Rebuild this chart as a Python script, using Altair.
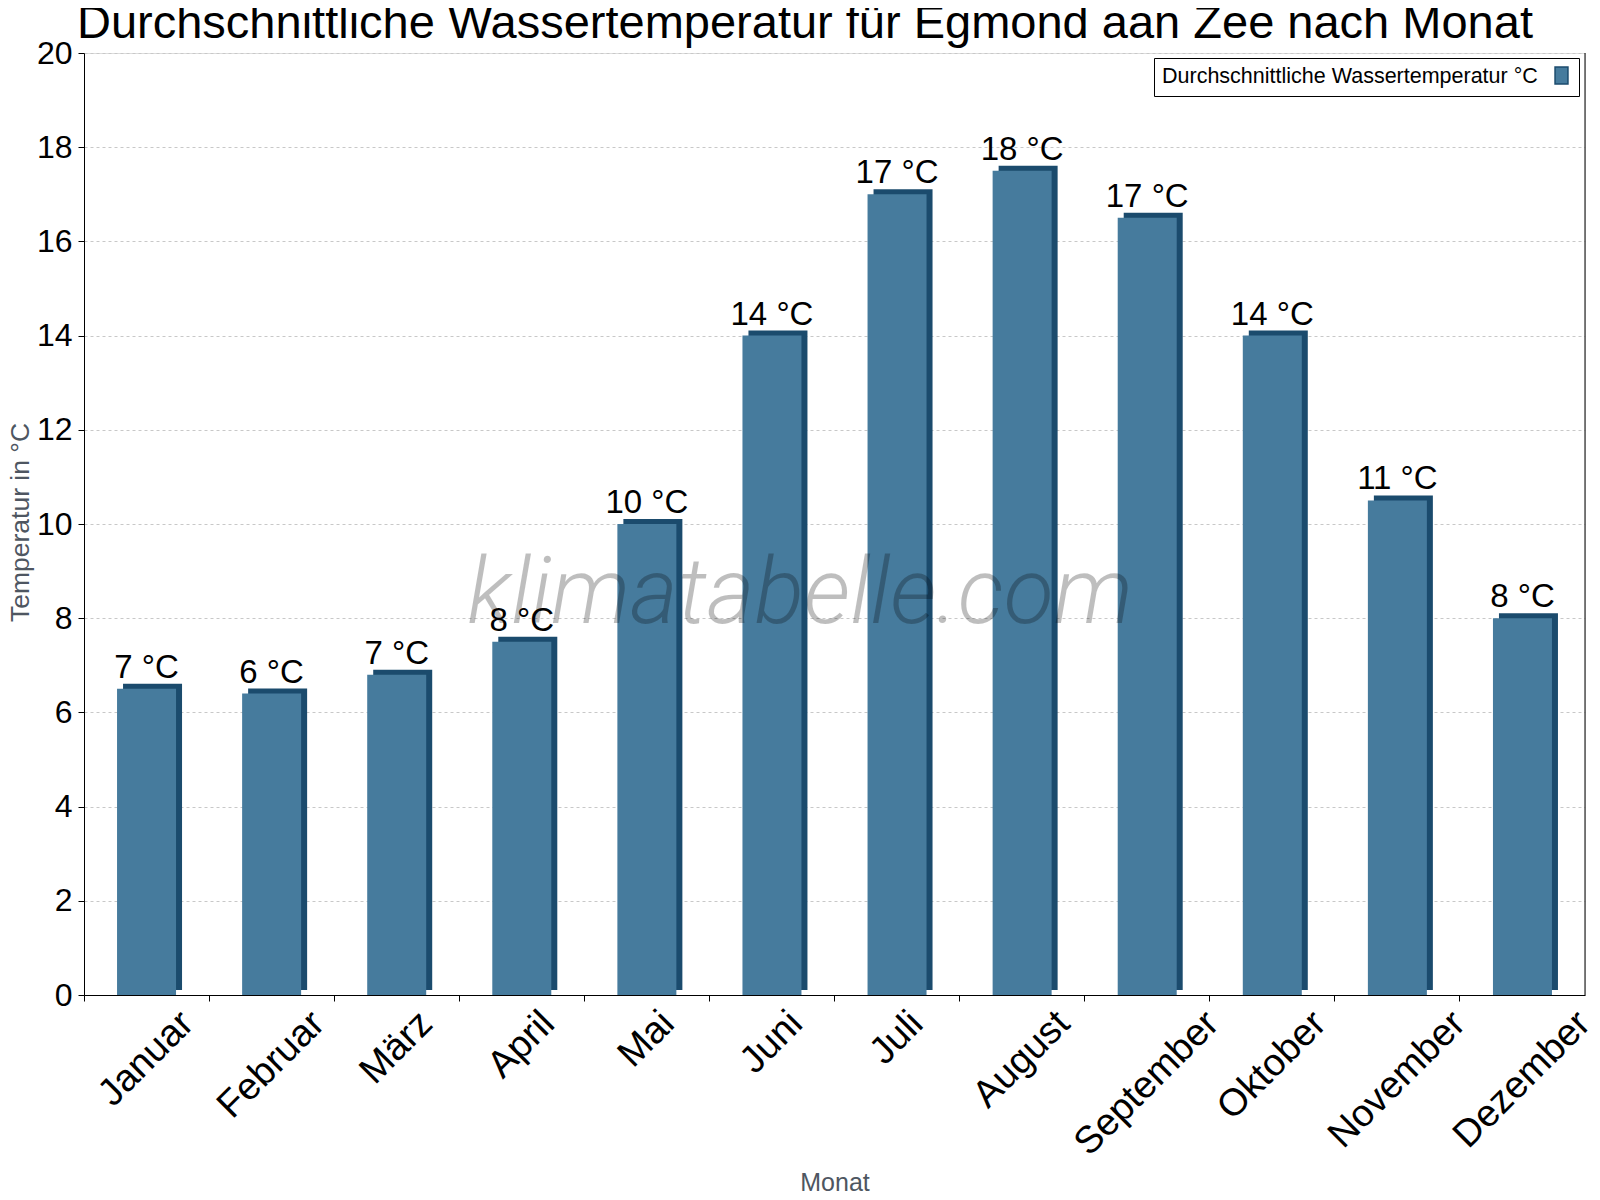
import altair as alt
import pandas as pd

# ---- data ----
months = ["Januar", "Februar", "März", "April", "Mai", "Juni", "Juli",
          "August", "September", "Oktober", "November", "Dezember"]
temps = [6.5, 6.4, 6.8, 7.5, 10.0, 14.0, 17.0, 17.5, 16.5, 14.0, 10.5, 8.0]
value_labels = ["7 °C", "6 °C", "7 °C", "8 °C", "10 °C", "14 °C", "17 °C",
                "18 °C", "17 °C", "14 °C", "11 °C", "8 °C"]
series_name = "Durchschnittliche Wassertemperatur °C"
chart_title = ["Durchschnittliche Wassertemperatur für Egmond aan Zee nach Monat"]
y_ticks = [0, 2, 4, 6, 8, 10, 12, 14, 16, 18, 20]
watermark = ["klimatabelle.com"]

df = pd.DataFrame({
    "Monat": months,
    "Temp": temps,
    "Label": value_labels,
    "Serie": [series_name] * len(months),
})

W, H = 1501, 942
FONT = "Liberation Sans"
FRONT = "#467b9d"
DARK = "#1b4b6d"
GREYTXT = "#4e5661"
XLAB_SIZE = 38

# Rotated month labels are centred under their band, hanging from a fixed
# line just below the axis (like the original renderer).  Their padding is
# derived from Arial advance widths (font metrics, per 1000 em).
ARIAL_W = {"J": 500, "a": 556, "n": 556, "u": 556, "r": 333, "F": 611, "e": 556,
           "b": 556, "M": 833, "ä": 556, "z": 500, "A": 667, "p": 556, "i": 222,
           "l": 222, "g": 556, "s": 500, "t": 278, "S": 667, "m": 833, "O": 778,
           "k": 500, "o": 556, "N": 722, "v": 500, "D": 722}


def label_pad(txt):
    width = sum(ARIAL_W.get(c, 556) for c in txt) / 1000 * XLAB_SIZE
    return round(16.6 + width / (2 * 2 ** 0.5), 1)


pads = [label_pad(m) for m in months]
pad_expr = "[{}][indexof([{}], datum.value)]".format(
    ", ".join(str(p) for p in pads),
    ", ".join("'{}'".format(m) for m in months),
)

x_enc = alt.X(
    "Monat:N", sort=months,
    scale=alt.Scale(paddingInner=0, paddingOuter=0),
    axis=alt.Axis(
        title="Monat", titleFont=FONT, titleFontSize=25, titleFontWeight="normal",
        titleColor=GREYTXT, titleBaseline="alphabetic", titleY=195,
        labelAngle=-45, labelAlign="center", labelBaseline="middle",
        labelFont=FONT, labelFontSize=XLAB_SIZE, labelColor="black",
        labelPadding={"expr": pad_expr}, labelLimit=0, labelOverlap=False,
        bandPosition=0, tickSize=6, tickColor="black",
        domainColor="black", grid=False,
    ),
)
y_enc = alt.Y(
    "Temp:Q",
    scale=alt.Scale(domain=[0, 20], nice=False),
    axis=alt.Axis(
        values=y_ticks, title="Temperatur in °C", titleFont=FONT,
        titleFontSize=26.5, titleFontWeight="normal", titleColor=GREYTXT,
        titleX=-56, titleY=469, titleBaseline="alphabetic", titleAlign="center",
        labelFont=FONT, labelFontSize=32, labelColor="black", labelPadding=6,
        labelFlush=False, tickSize=6, tickColor="black", domainColor="black",
        grid=True, gridColor="#c8c8c8", gridDash=[3, 3], gridWidth=1,
    ),
)

base = alt.Chart(df)

back = base.mark_bar(size=59, xOffset=6, yOffset=-5, color=DARK).encode(x=x_enc, y=y_enc)

front = base.mark_bar(size=59).encode(
    x=x_enc, y=y_enc,
    color=alt.Color(
        "Serie:N",
        scale=alt.Scale(range=[FRONT]),
        legend=alt.Legend(
            orient="none", legendX=1070, legendY=5,
            title=series_name, titleOrient="left", titleFont=FONT,
            titleFontSize=21.5, titleFontWeight="normal", titleColor="black",
            titlePadding=14, titleBaseline="middle", titleLimit=1000,
            labelExpr="''", labelOffset=0, labelFontSize=1,
            symbolType="M-0.76,-1H0.76V1H-0.76Z", symbolSize=289,
            symbolStrokeColor=DARK, symbolStrokeWidth=1.5, symbolOpacity=1,
            strokeColor="black", fillColor="white", padding=8,
        ),
    ),
)

texts = base.mark_text(
    font=FONT, fontSize=33, color="black", baseline="alphabetic",
    align="center", dy=-11,
).encode(x=x_enc, y=y_enc, text="Label:N")

border = alt.Chart(pd.DataFrame({"k": [0]})).mark_rule(color="black").encode(
    x=alt.value(W), y=alt.value(0), y2=alt.value(H)
)

wm = alt.Chart(pd.DataFrame({"t": watermark})).mark_text(
    font="Roboto", fontStyle="italic", fontWeight=300, fontSize=92,
    color="black", opacity=0.25, align="center", baseline="alphabetic",
).encode(x=alt.value(716), y=alt.value(570), text="t:N")

title = alt.Chart(pd.DataFrame({"t": chart_title})).mark_text(
    font=FONT, fontSize=47, color="black", align="left", baseline="alphabetic",
).encode(x=alt.value(-7), y=alt.value(-15), text="t:N")

chart = alt.layer(back, front, texts, border, wm, title).properties(
    width=W, height=H,
    autosize=alt.AutoSizeParams(type="none"),
    padding={"left": 76, "top": 45, "right": 7, "bottom": 197},
).configure_view(stroke=None).configure(background="white")

chart.save("out.html", embed_options={"renderer": "svg", "actions": False})
